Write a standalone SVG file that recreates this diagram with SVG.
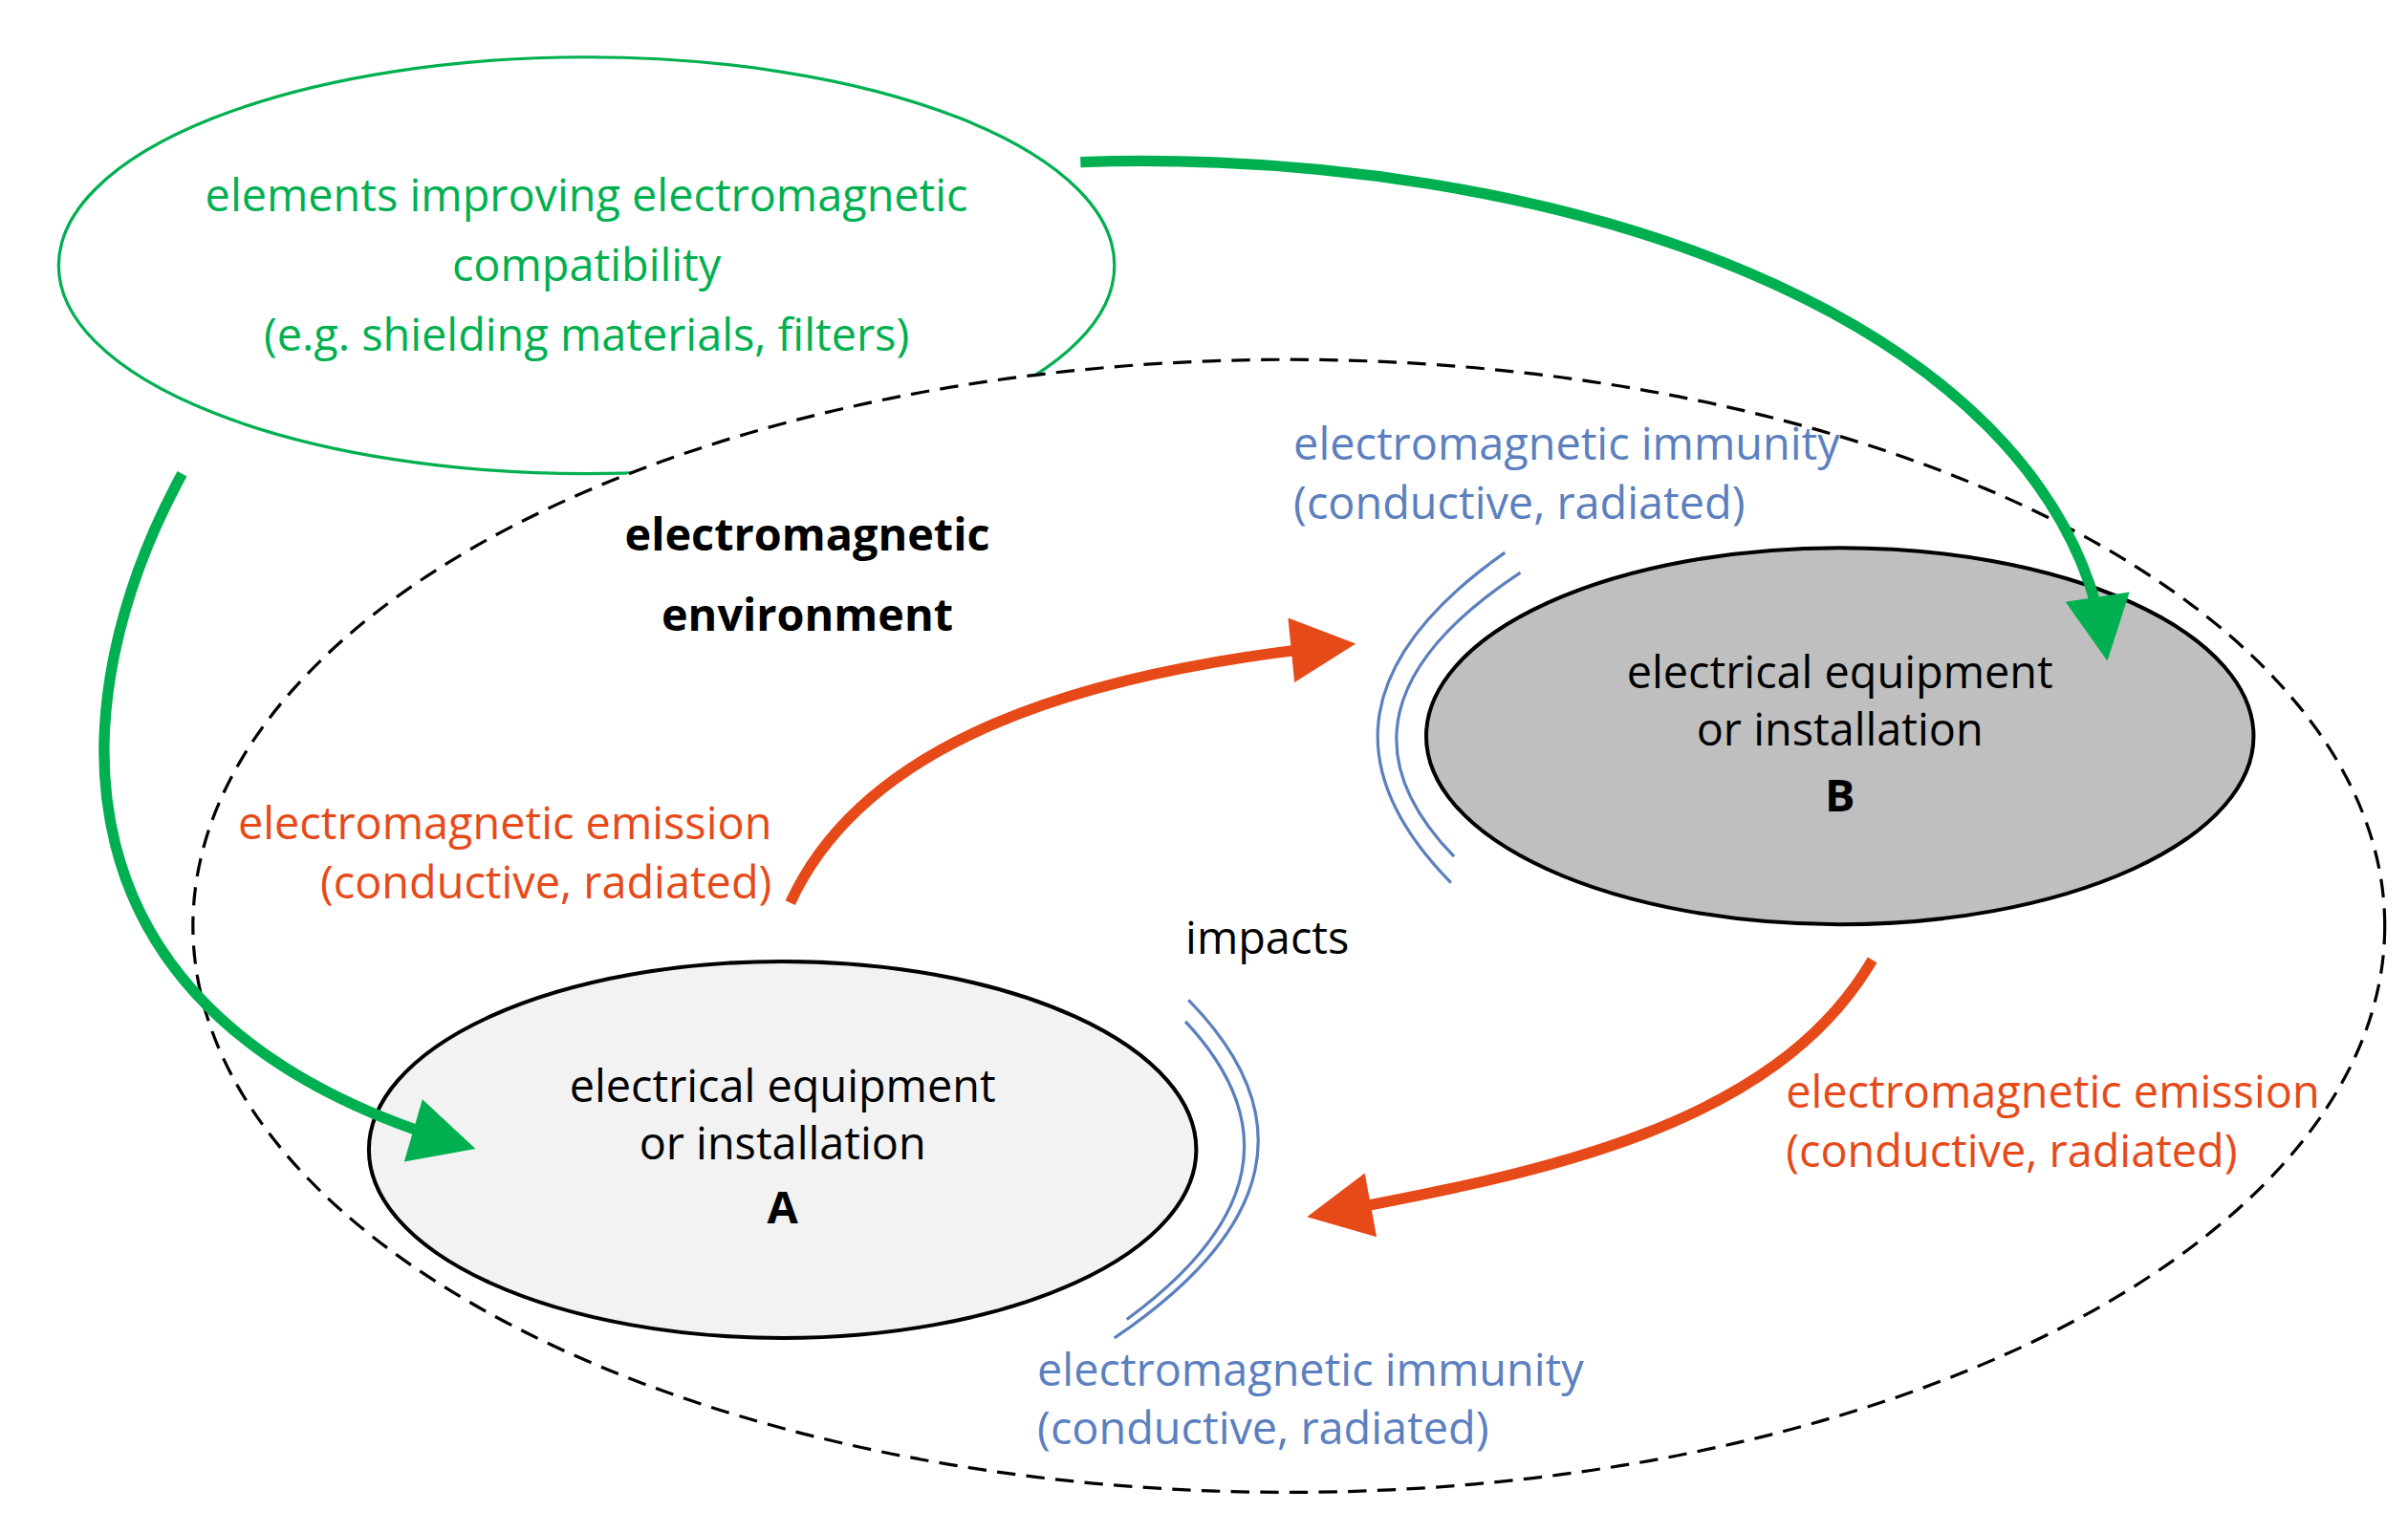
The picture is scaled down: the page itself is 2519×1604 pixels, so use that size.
<svg xmlns="http://www.w3.org/2000/svg" width="2519" height="1604" viewBox="0 0 2519 1604">
<style>
text{font-family:"Open Sans","Liberation Sans",sans-serif;font-size:29px}
.g{fill:#00b050}.o{fill:#e64a19}.b{fill:#5b7fbf}.k{fill:#000}
.ga{fill:none;stroke:#00b050;stroke-width:7}
.oa{fill:none;stroke:#e64a19;stroke-width:7}
.bl{fill:none;stroke:#5b7fbf;stroke-width:2}
</style>
<defs>
<marker id="gh" viewBox="0 0 10 10" refX="8" refY="5" markerWidth="7" markerHeight="6" markerUnits="strokeWidth" orient="auto"><path d="M0,0L10,5L0,10z" fill="#00b050"/></marker>
<marker id="oh" viewBox="0 0 10 10" refX="8" refY="5" markerWidth="7" markerHeight="6" markerUnits="strokeWidth" orient="auto"><path d="M0,0L10,5L0,10z" fill="#e64a19"/></marker>
</defs>
<rect width="2519" height="1604" fill="#fff"/>
<g transform="scale(1.6147)">
<g id="emc">
<ellipse cx="380" cy="172" rx="342" ry="135" fill="#fff" stroke="#00b050" stroke-width="2"/>
</g>
<g id="environment">
<ellipse cx="835" cy="600" rx="710" ry="367" fill="#fff" stroke="#000" stroke-width="2" stroke-dasharray="12,7"/>
<text x="523" y="357" text-anchor="middle" font-weight="bold" font-size="35" class="k">electromagnetic</text>
<text x="523" y="409" text-anchor="middle" font-weight="bold" font-size="35" class="k">environment</text>
</g>
<g id="emc-text" text-anchor="middle" class="g">
<text x="380" y="137">elements improving electromagnetic</text>
<text x="380" y="182">compatibility</text>
<text x="380" y="227">(e.g. shielding materials, filters)</text>
</g>
<g id="nodeB">
<ellipse cx="1192" cy="477" rx="268" ry="122" fill="#bfbfbf" stroke="#000" stroke-width="2.5"/>
<text x="1192" y="446" text-anchor="middle" class="k">electrical equipment</text>
<text x="1192" y="483" text-anchor="middle" class="k">or installation</text>
<text x="1192" y="526" text-anchor="middle" font-weight="bold" class="k">B</text>
</g>
<g id="nodeA">
<ellipse cx="507" cy="745" rx="268" ry="122" fill="#f2f2f2" stroke="#000" stroke-width="2.5"/>
<text x="507" y="714" text-anchor="middle" class="k">electrical equipment</text>
<text x="507" y="751" text-anchor="middle" class="k">or installation</text>
<text x="507" y="793" text-anchor="middle" font-weight="bold" class="k">A</text>
</g>
<g id="connectors">
<path class="ga" d="M700,105 C1000,95 1330,200 1364,420" marker-end="url(#gh)"/>
<path class="ga" d="M118,307 C40,450 20,660 300,742" marker-end="url(#gh)"/>
<path class="oa" d="M512,585 C560,480 700,435 870,418" marker-end="url(#oh)"/>
<path class="oa" d="M1213,622 C1150,730 1000,760 855,787" marker-end="url(#oh)"/>
<path class="bl" d="M975,358 Q830,460 940,572"/>
<path class="bl" d="M985,371 Q850,460 942,555"/>
<path class="bl" d="M770,648 Q880,760 722,867"/>
<path class="bl" d="M768,662 Q860,760 730,855"/>
</g>
<g id="labels">
<text x="838" y="298" class="b">electromagnetic immunity</text>
<text x="838" y="336" class="b">(conductive, radiated)</text>
<text x="672" y="898" class="b">electromagnetic immunity</text>
<text x="672" y="936" class="b">(conductive, radiated)</text>
<text x="500" y="544" text-anchor="end" class="o">electromagnetic emission</text>
<text x="500" y="582" text-anchor="end" class="o">(conductive, radiated)</text>
<text x="1157" y="718" class="o">electromagnetic emission</text>
<text x="1157" y="756" class="o">(conductive, radiated)</text>
<text x="768" y="618" class="k">impacts</text>
</g>
</g>
</svg>
